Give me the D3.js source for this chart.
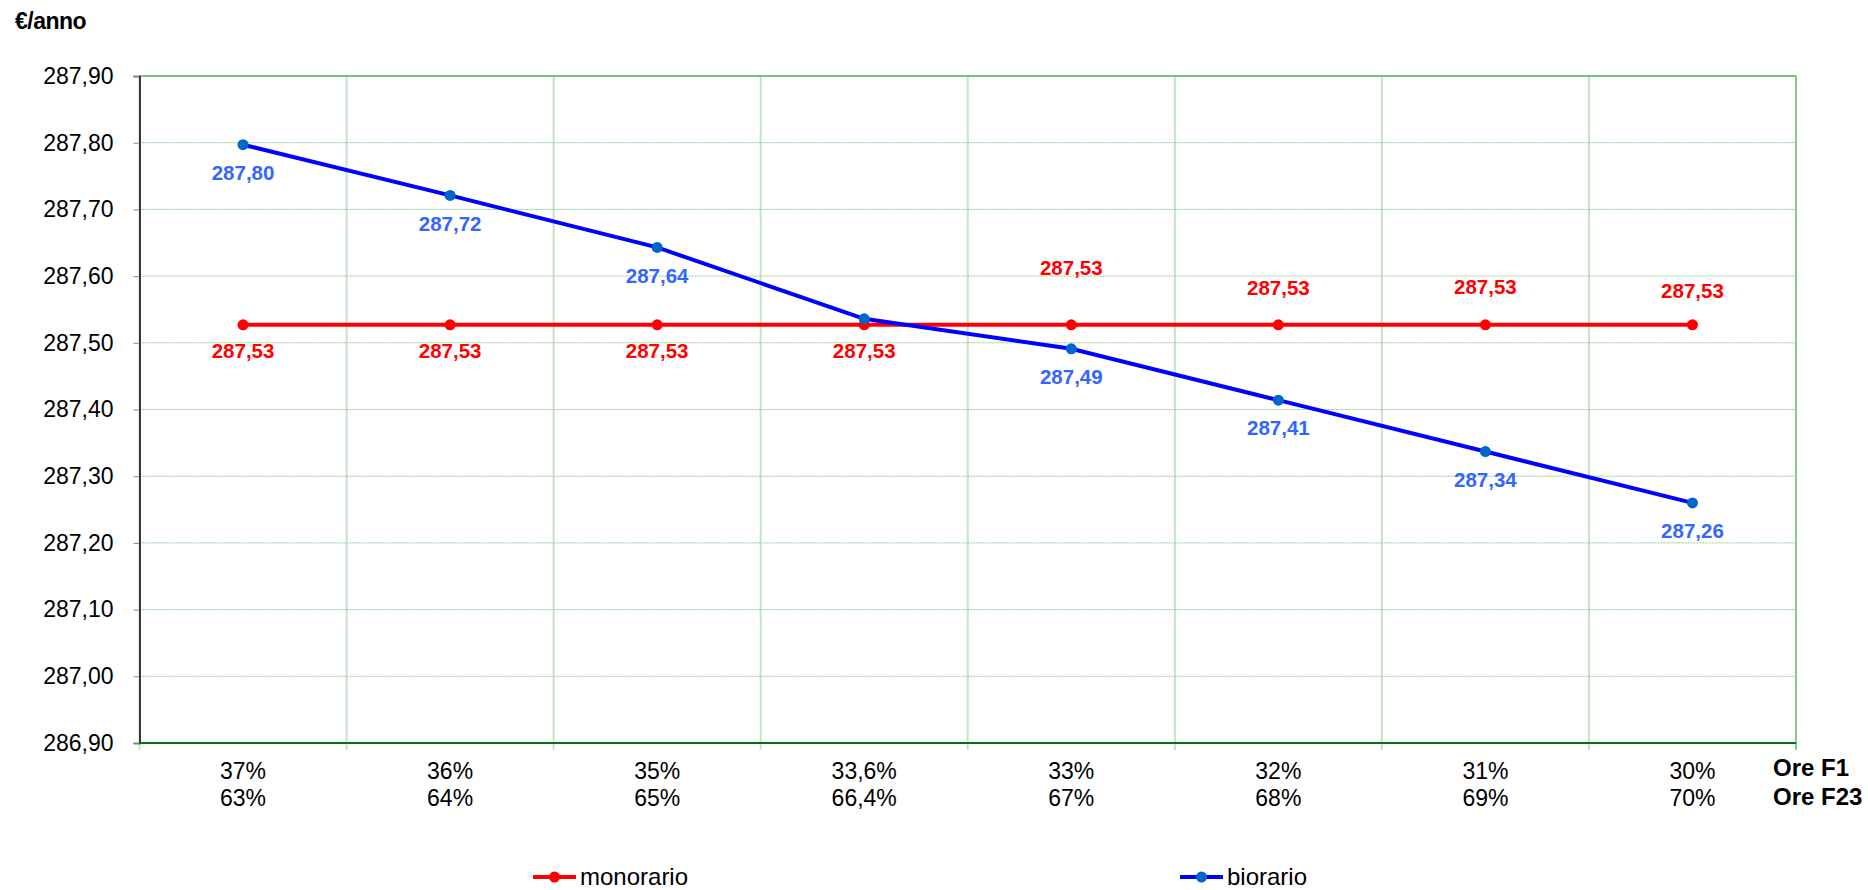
<!DOCTYPE html>
<meta charset="utf-8">
<style>
body { margin: 0; background: #fff; }
svg { display: block; font-family: "Liberation Sans", Arial, sans-serif; }
.axis text { font-size: 23px; fill: #000; }
.vlabel { font-size: 20.5px; font-weight: bold; text-anchor: middle; }
.legend text { font-size: 24px; fill: #000; }
</style>
<svg width="1868" height="890"></svg>
<script src="https://d3js.org/d3.v7.min.js"></script>
<script>
// categories: share of hours F1 / F23
const oreF1 = ["37%", "36%", "35%", "33,6%", "33%", "32%", "31%", "30%"]
const oreF23 = ["63%", "64%", "65%", "66,4%", "67%", "68%", "69%", "70%"]

// €/anno
const monorario = [287.527, 287.527, 287.527, 287.527, 287.527, 287.527, 287.527, 287.527]
const biorario = [287.797, 287.721, 287.643, 287.536, 287.491, 287.414, 287.337, 287.260]

const yTicks = [286.9, 287.0, 287.1, 287.2, 287.3, 287.4, 287.5, 287.6, 287.7, 287.8, 287.9]

// where Excel put the red labels (below / above the point)
const monoLabelDy = [26, 26, 26, 26, -57, -37, -38, -34]
// the blue label at the crossing point is not shown
const bioLabelHidden = [3]

const fmt = v => d3.format(".2f")(v).replace(".", ",")

const svg = d3.select("svg"),
    margin = {top: 76, right: 72, bottom: 147, left: 139.5},
    width = +svg.attr("width") - margin.left - margin.right,
    height = +svg.attr("height") - margin.top - margin.bottom

const g = svg.append("g").attr("transform", `translate(${margin.left},${margin.top})`)

const x = d3.scaleBand()
    .domain(d3.range(oreF1.length))
    .range([0, width])

const y = d3.scaleLinear()
    .domain([286.9, 287.9])
    .range([height, 0])

const cx = i => x(i) + x.bandwidth() / 2

// vertical grid lines on category boundaries
g.append("g")
  .selectAll("line")
  .data(d3.range(oreF1.length + 1))
  .join("line")
    .attr("x1", i => i * x.bandwidth())
    .attr("x2", i => i * x.bandwidth())
    .attr("y1", 0)
    .attr("y2", height + 7)
    .attr("stroke", i => i === oreF1.length ? "#5cb85c" : "#c6e3c6")
    .attr("stroke-width", i => i === oreF1.length ? 1.5 : 2)

// horizontal grid lines
g.append("g")
  .selectAll("line")
  .data(yTicks.slice(1))
  .join("line")
    .attr("x1", 0)
    .attr("x2", width)
    .attr("y1", d => y(d))
    .attr("y2", d => y(d))
    .attr("stroke", d => d === 287.9 ? "#4caf50" : "#8fcc8f")
    .attr("stroke-width", d => d === 287.9 ? 1.5 : 1)
    .attr("stroke-dasharray", d => d === 287.9 ? null : "2,1")

// y axis
const yAxis = g.append("g")
    .attr("class", "axis")
    .call(d3.axisLeft(y).tickValues(yTicks).tickSize(6).tickPadding(20).tickFormat(fmt))
yAxis.select(".domain").attr("stroke", "#000").attr("stroke-width", 1.5)
yAxis.selectAll(".tick line").attr("stroke", "#888")

// bottom axis line
g.append("line")
    .attr("x1", 0).attr("x2", width)
    .attr("y1", height).attr("y2", height)
    .attr("stroke", "#0b6e0b")
    .attr("stroke-width", 2)

// x labels (two rows)
const xl = g.append("g").attr("class", "axis")
xl.selectAll("text.f1")
  .data(oreF1)
  .join("text")
    .attr("x", (d, i) => cx(i))
    .attr("y", height + 28)
    .attr("dy", "0.35em")
    .attr("text-anchor", "middle")
    .text(d => d)
xl.selectAll("text.f23")
  .data(oreF23)
  .join("text")
    .attr("x", (d, i) => cx(i))
    .attr("y", height + 55)
    .attr("dy", "0.35em")
    .attr("text-anchor", "middle")
    .text(d => d)

svg.append("text")
    .attr("x", 1773).attr("y", 768).attr("dy", "0.35em")
    .attr("font-size", 24).attr("font-weight", "bold")
    .text("Ore F1")
svg.append("text")
    .attr("x", 1773).attr("y", 797).attr("dy", "0.35em")
    .attr("font-size", 24).attr("font-weight", "bold")
    .text("Ore F23")

// unit label
svg.append("text")
    .attr("x", 15).attr("y", 29)
    .attr("font-size", 23).attr("font-weight", "bold")
    .attr("letter-spacing", -0.5)
    .text("€/anno")

const line = d3.line().x((d, i) => cx(i)).y(d => y(d))

const series = [
  {name: "monorario", values: monorario, stroke: "#ff0000", marker: "#ff0000", label: "#ff0000"},
  {name: "biorario", values: biorario, stroke: "#0000ff", marker: "#0066cc", label: "#3366ff"}
]

series.forEach(s => {
  g.append("path")
      .datum(s.values)
      .attr("fill", "none")
      .attr("stroke", s.stroke)
      .attr("stroke-width", 4)
      .attr("d", line)
  g.append("g")
    .selectAll("circle")
    .data(s.values)
    .join("circle")
      .attr("cx", (d, i) => cx(i))
      .attr("cy", d => y(d))
      .attr("r", 5.5)
      .attr("fill", s.marker)
})

// data labels
g.append("g")
  .selectAll("text")
  .data(monorario)
  .join("text")
    .attr("class", "vlabel")
    .attr("x", (d, i) => cx(i))
    .attr("y", (d, i) => y(d) + monoLabelDy[i])
    .attr("dy", "0.35em")
    .attr("fill", "#ff0000")
    .text(fmt)

g.append("g")
  .selectAll("text")
  .data(biorario.map((v, i) => ({v, i})).filter(d => !bioLabelHidden.includes(d.i)))
  .join("text")
    .attr("class", "vlabel")
    .attr("x", d => cx(d.i))
    .attr("y", d => y(d.v) + 28)
    .attr("dy", "0.35em")
    .attr("fill", "#3366ff")
    .text(d => fmt(d.v))

// legend
const legendPos = [533, 1180]
const legend = svg.append("g").attr("class", "legend")
series.forEach((s, k) => {
  const lg = legend.append("g").attr("transform", `translate(${legendPos[k]},877)`)
  lg.append("line").attr("x1", 0).attr("x2", 43).attr("stroke", s.stroke).attr("stroke-width", 4)
  lg.append("circle").attr("cx", 21.5).attr("r", 5.5).attr("fill", s.marker)
  lg.append("text").attr("x", 47).attr("dy", "0.32em").text(s.name)
})
</script>
